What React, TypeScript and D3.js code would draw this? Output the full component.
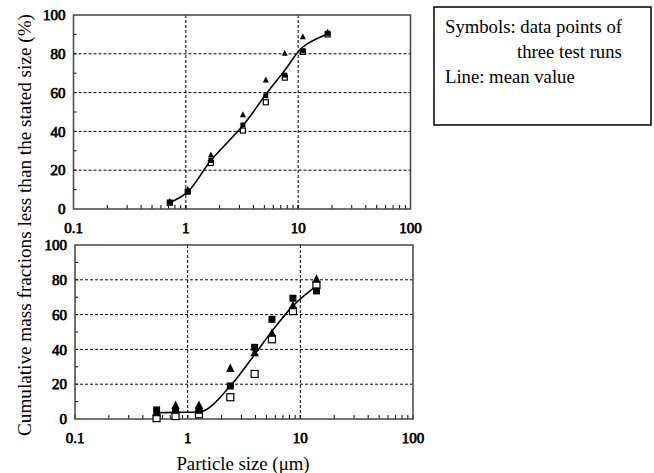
import React from "react";
import * as d3 from "d3";

// Top panel data (particle size µm, cumulative %)
const topX = [0.72, 1.04, 1.67, 3.22, 5.15, 7.6, 11.0, 18.3];
const topTri = [3.8, 10.0, 27.8, 48.5, 66.5, 80.2, 88.8, 91.0];
const topFill = [3.5, 8.8, 25.0, 43.3, 58.4, 69.0, 81.6, 90.6];
const topOpen = [3.2, 9.0, 23.7, 40.4, 55.0, 67.7, 81.0, 90.0];
const topMeanX = [0.72, 1.04, 1.67, 3.22, 5.15, 7.6, 11.0, 18.3];
const topMean = [3.3, 8.8, 25.0, 43.0, 59.0, 71.5, 83.5, 90.2];

// Bottom panel data
const botX = [0.53, 0.78, 1.26, 2.39, 3.93, 5.6, 8.6, 13.9];
const botTri = [3.5, 7.7, 7.7, 29.0, 38.0, 49.2, 65.0, 80.3];
const botFill = [5.2, 5.0, 5.0, 19.0, 41.2, 57.3, 69.4, 73.6];
const botOpen = [0.5, 1.7, 2.7, 12.5, 25.9, 45.8, 62.0, 77.0];
const botMeanX = [0.53, 0.78, 1.26, 2.39, 3.93, 5.6, 8.6, 13.9];
const botMean = [3.6, 3.8, 4.0, 19.0, 37.0, 50.5, 65.0, 76.5];

const xTickLabels = ["0.1", "1", "10", "100"];
const yTickLabels = [0, 20, 40, 60, 80, 100];

const SERIF = "Liberation Serif";

type PanelProps = {
  x0: number; x1: number; y0: number; y1: number;
  xs: number[]; tri: number[]; fill: number[]; open: number[];
  mx: number[]; my: number[]; sym: number; curve: any;
};

function Panel({ x0, x1, y0, y1, xs, tri, fill, open, mx, my, sym, curve }: PanelProps) {
  const x = d3.scaleLog().domain([0.1, 100]).range([x0, x1]);
  const y = d3.scaleLinear().domain([0, 100]).range([y1, y0]);
  const minor: number[] = [];
  for (let d = 0.1; d < 100; d *= 10) {
    for (let k = 1; k <= 10; k++) minor.push(d * k);
  }
  const line = d3.line<number>()
    .x((_, i) => x(mx[i]))
    .y((v) => y(v))
    .curve(curve);
  const h = sym / 2;
  const triPath = (cx: number, cy: number) => {
    const s = sym * 1.2;
    return `M${cx},${cy - s * 0.6}L${cx + s / 2},${cy + s * 0.4}L${cx - s / 2},${cy + s * 0.4}Z`;
  };
  const boldText = { fontFamily: SERIF, fontSize: 15, stroke: "#000", strokeWidth: 0.75 } as const;
  return (
    <g>
      {[20, 40, 60, 80].map((v) => (
        <line key={"h" + v} x1={x0} x2={x1} y1={y(v)} y2={y(v)} stroke="#000" strokeWidth={1} strokeDasharray="3,2" />
      ))}
      {[1, 10].map((v) => (
        <line key={"v" + v} x1={x(v)} x2={x(v)} y1={y0} y2={y1} stroke="#000" strokeWidth={1} strokeDasharray="3,2" />
      ))}
      {minor.map((v, i) => (
        <line key={"m" + i} x1={x(v)} x2={x(v)} y1={y1} y2={y1 - 4} stroke="#000" strokeWidth={1} />
      ))}
      {d3.range(10, 100, 10).map((v) => (
        <line key={"yt" + v} x1={x0} x2={x0 + 3} y1={y(v)} y2={y(v)} stroke="#000" strokeWidth={1} />
      ))}
      <rect x={x0} y={y0} width={x1 - x0} height={y1 - y0} fill="none" stroke="#444" strokeWidth={1.5} />
      <path d={line(my) || ""} fill="none" stroke="#000" strokeWidth={1.6} />
      {xs.map((v, i) => (
        <rect key={"o" + i} x={x(v) - h} y={y(open[i]) - h} width={sym} height={sym} fill="#fff" stroke="#000" strokeWidth={1.2} />
      ))}
      {xs.map((v, i) => (
        <rect key={"f" + i} x={x(v) - h} y={y(fill[i]) - h} width={sym} height={sym} fill="#000" />
      ))}
      {xs.map((v, i) => (
        <path key={"t" + i} d={triPath(x(v), y(tri[i]))} fill="#000" />
      ))}
      {yTickLabels.map((v) => (
        <text key={"yl" + v} x={x0 - 8} y={y(v)} dy="0.35em" textAnchor="end" {...boldText}>{v}</text>
      ))}
      {xTickLabels.map((t) => (
        <text key={"xl" + t} x={x(+t)} y={y1 + 19} dy="0.35em" textAnchor="middle" {...boldText}>{t}</text>
      ))}
    </g>
  );
}

export default function App() {
  return (
    <svg width={654} height={473} style={{ position: "absolute", left: 0, top: 0, background: "#fff" }}>
      <rect x={0} y={0} width={654} height={473} fill="#fff" />
      <Panel x0={73.5} x1={410.5} y0={15} y1={209} xs={topX} tri={topTri} fill={topFill} open={topOpen}
        mx={topMeanX} my={topMean} sym={5} curve={d3.curveCatmullRom} />
      <Panel x0={75} x1={413} y0={245} y1={419} xs={botX} tri={botTri} fill={botFill} open={botOpen}
        mx={botMeanX} my={botMean} sym={7} curve={d3.curveMonotoneX} />
      <text transform="translate(24,225) rotate(-90)" textAnchor="middle" dy="0.35em" fontFamily={SERIF} fontSize={19.2}>
        Cumulative mass fractions less than the stated size (%)
      </text>
      <text x={243} y={463} textAnchor="middle" dy="0.35em" fontFamily={SERIF} fontSize={18.8}>Particle size (μm)</text>
      <rect x={434} y={7} width={217} height={118} fill="#fff" stroke="#000" strokeWidth={1.5} />
      <text x={445} y={33} fontFamily={SERIF} fontSize={18.7}>Symbols: data points of</text>
      <text x={517} y={58} fontFamily={SERIF} fontSize={18.7}>three test runs</text>
      <text x={445} y={83} fontFamily={SERIF} fontSize={18.7}>Line: mean value</text>
    </svg>
  );
}
